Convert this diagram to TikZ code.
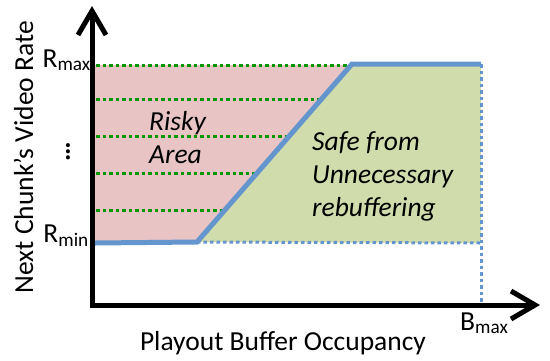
\documentclass[tikz,border=0pt]{standalone}
\usepackage{fontspec}
\setmainfont{Carlito}
\usetikzlibrary{arrows.meta}
\definecolor{riskpink}{RGB}{232,196,196}
\definecolor{safegreen}{RGB}{208,220,172}
\definecolor{curveblue}{RGB}{100,150,205}
\definecolor{gridgreen}{RGB}{0,150,0}
\tikzset{
  lbl/.style={inner sep=0pt, font=\fontsize{27.5}{33}\selectfont},
  arealbl/.style={inner sep=0pt, align=left, anchor=base west, font=\fontsize{27.5}{33}\selectfont\itshape},
  axisline/.style={line width=5pt, -{Straight Barb[length=24pt,width=28pt,line width=5pt]}},
  griddot/.style={gridgreen, line width=3pt, dash pattern=on 3.5pt off 3pt},
  bluedot/.style={curveblue, line width=3pt, dash pattern=on 3.5pt off 3pt},
  curve/.style={curveblue, line width=5pt, line join=miter},
}
\begin{document}
\begin{tikzpicture}[x=1pt,y=-1pt]
\useasboundingbox (0,0) rectangle (550,360);
% coordinates
\coordinate (ytip) at (92,6);
\coordinate (xtip) at (540,305);
\coordinate (a) at (95,243);
\coordinate (b) at (197,242);
\coordinate (c) at (352,64);
\coordinate (d) at (481,64);
\coordinate (e) at (481,243);
\coordinate (f) at (481,305);
% regions
\fill[riskpink] (95,65) -- (351,65) -- (b) -- (a) -- cycle;
\fill[safegreen] (b) -- (c) -- (d) -- (e) -- cycle;
% grid lines
\draw[griddot] (96,65) -- (350,65);
\draw[griddot] (96,99) -- (319,99);
\draw[griddot] (96,136) -- (288,136);
\draw[griddot] (96,173) -- (256,173);
\draw[griddot] (96,210) -- (224,210);
% blue dotted bounds
\draw[bluedot] (b) -- (e);
\draw[bluedot] (d) -- (f);
% curve
\draw[curve] (a) -- (b) -- (c) -- (d);
% axes
\draw[axisline] (92,307.5) -- (ytip);
\draw[axisline] (89.5,305) -- (xtip);
% labels
\node[lbl, anchor=base east] (rmax) at (91,67) {R\textsubscript{max}};
\node[lbl, anchor=base east] (rmin) at (89,242) {R\textsubscript{min}};
\node[lbl, rotate=90, anchor=center] (vd) at (68,152) {\textbf{…}};
\node[lbl, anchor=base west] (bmax) at (460,330) {B\textsubscript{max}};
\node[lbl, anchor=base] (xl) at (283,350) {Playout Buffer Occupancy};
\node[lbl, rotate=90, anchor=base] (yl) at (33,157) {Next Chunk’s Video Rate};
\node[arealbl] (risky) at (149,163) {Risky\\Area};
\node[arealbl] (safe) at (312,216) {Safe from\\Unnecessary\\rebuffering};
\end{tikzpicture}
\end{document}
